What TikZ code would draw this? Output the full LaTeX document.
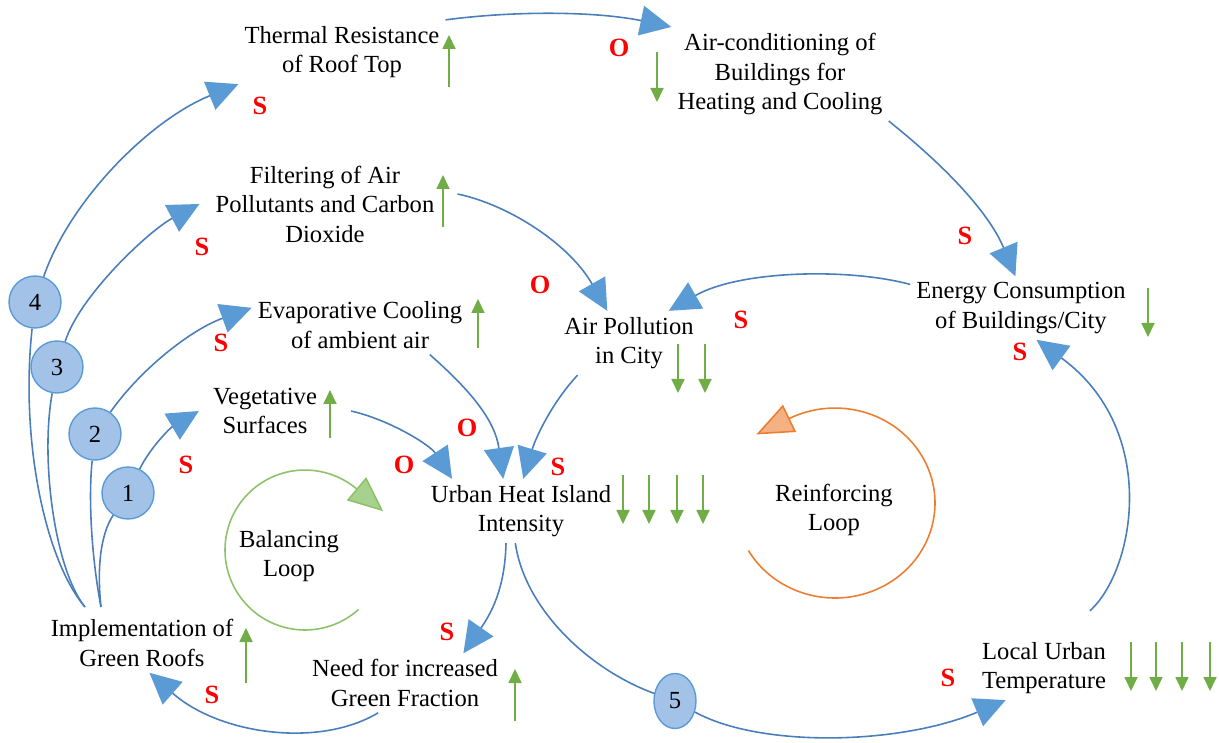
\documentclass[tikz,border=0pt]{standalone}
\usepackage{fontspec}
\setmainfont{Liberation Serif}
\usepackage{tikz}
\usetikzlibrary{arrows.meta,shapes.geometric}

\definecolor{linkblue}{HTML}{4A7EBB}
\definecolor{headblue}{HTML}{5B9BD5}
\definecolor{bubblefill}{HTML}{A3C2E8}
\definecolor{trendgreen}{HTML}{70AD47}
\definecolor{loopgreen}{HTML}{8DC26B}
\definecolor{loopgreenfill}{HTML}{A9D18E}
\definecolor{looporange}{HTML}{ED7D31}
\definecolor{looporangefill}{HTML}{F4B183}

\tikzset{
  factor/.style={align=center, font=\fontsize{14}{16.8}\selectfont},
  sign/.style={text=red, font=\bfseries\fontsize{15}{18}\selectfont},
  bubble/.style={circle, draw=headblue, fill=bubblefill, line width=0.8pt, minimum size=10.4mm, inner sep=0pt, font=\fontsize{14}{16.8}\selectfont},
  feed/.style={draw=linkblue, line width=0.9pt},
  link/.style={feed, -{Triangle[length=6.2mm,width=6mm,color=headblue]}},
  trend/.style={draw=trendgreen, line width=1pt, -{Triangle[length=2.8mm,width=2.6mm]}},
}

\begin{document}
\begin{tikzpicture}[x=0.2mm, y=-0.2mm]
	\useasboundingbox (0,0) rectangle (1219,743);
	
	% factors
	\node[factor] (therm) at (342,52) {Thermal Resistance\\of Roof Top};
	\node[factor] (aircon) at (780,74) {Air-conditioning of\\Buildings for\\Heating and Cooling};
	\node[factor] (filt) at (325,204) {Filtering of Air\\Pollutants and Carbon\\Dioxide};
	\node[factor] (evap) at (360,325) {Evaporative Cooling\\of ambient air};
	\node[factor] (veg) at (265,411) {Vegetative\\Surfaces};
	\node[factor] (airpol) at (629,343) {Air Pollution\\in City};
	\node[factor] (energy) at (1021,308) {Energy Consumption\\of Buildings/City};
	\node[factor] (uhi) at (521,511) {Urban Heat Island\\Intensity};
	\node[factor] (impl) at (142,643) {Implementation of\\Green Roofs};
	\node[factor] (need) at (405,683) {Need for increased\\Green Fraction};
	\node[factor] (local) at (1044,668) {Local Urban\\Temperature};
	\node[factor] (balance) at (289,556) {Balancing\\Loop};
	\node[factor] (reinforce) at (834,510) {Reinforcing\\Loop};
	
	% numbered stages
	\node[bubble] (c4) at (35,302) {4};
	\node[bubble] (c3) at (57,367) {3};
	\node[bubble] (c2) at (95,434) {2};
	\node[bubble] (c1) at (128,493) {1};
	\node[bubble, ellipse, minimum width=8.4mm, minimum height=11mm] (c5) at (675,701) {5};
	
	\coordinate (implA) at (85,607);
	\coordinate (implB) at (101,607);
	
	% links from the roofs
	\draw[feed] (implA) .. controls (45,560) and (20,440) .. (c4);
	\draw[feed] (implA) .. controls (55,570) and (40,460) .. (c3);
	\draw[feed] (implB) .. controls (92,560) and (88,500) .. (c2);
	\draw[feed] (implB) .. controls (97,570) and (100,535) .. (c1);
	\draw[link] (c4) .. controls (70,200) and (150,120) .. (therm.south west);
	\draw[link] (c3) .. controls (80,295) and (150,230) .. ([xshift=-2mm]filt.west);
	\draw[link] (c2) .. controls (140,370) and (190,330) .. (evap.171);
	\draw[link] (c1) .. controls (150,448) and (170,428) .. ([xshift=-1.6mm]veg.west);
	
	% links between factors
	\draw[link] (therm.north east) .. controls (520,10) and (600,12) .. (aircon.north west);
	\draw[link] (aircon.south east) .. controls (950,170) and (990,215) .. (energy.100);
	\draw[link] (energy.168) .. controls (850,268) and (740,270) .. (airpol.39);
	\draw[link] ([xshift=3.4mm,yshift=2mm]filt.east) .. controls (510,205) and (570,245) .. (airpol.124);
	\draw[link] (evap.337) .. controls (470,390) and (495,420) .. (uhi.119);
	\draw[link] (airpol.212) .. controls (550,405) and (535,440) .. (uhi.86);
	\draw[link] ([xshift=5.6mm]veg.east) .. controls (390,420) and (430,445) .. (uhi.155);
	\draw[link] (uhi.245) .. controls (505,590) and (490,615) .. (need.27);
	\draw[link] (need.228) .. controls (320,748) and (220,735) .. (impl.284);
	\draw[feed] (uhi.260) .. controls (525,610) and (590,670) .. (c5);
	\draw[link] (c5) .. controls (760,748) and (900,745) .. (local.220);
	\draw[link] ([yshift=5mm]local.35) .. controls (1135,570) and (1160,430) .. (energy.296);
	
	% loops
	\draw[line width=0.9pt, loopgreen, shorten >=-7mm, -{Triangle[length=7mm,width=6mm,fill=loopgreenfill]}]
		(305,550) ++(-312:80) arc[start angle=-312, end angle=-50, radius=80];
	\draw[line width=0.9pt, looporange, shorten >=-7.4mm, -{Triangle[length=7.4mm,width=6mm,fill=looporangefill]}]
		(835,503) ++(-210:100 and 95) arc[start angle=-210, end angle=-477, x radius=100, y radius=95];
	
	% polarity signs
	\node[sign] (sTherm) at (260,106) {S};
	\node[sign] (oAircon) at (619,48) {O};
	\node[sign] (sFilt) at (202,247) {S};
	\node[sign] (sEnergy) at (965,236) {S};
	\node[sign] (oAirpol) at (540,285) {O};
	\node[sign] (sAirpol) at (741,320) {S};
	\node[sign] (sEvap) at (221,343) {S};
	\node[sign] (sEnergyB) at (1020,352) {S};
	\node[sign] (oEvap) at (467,428) {O};
	\node[sign] (sVeg) at (186,465) {S};
	\node[sign] (oVeg) at (404,465) {O};
	\node[sign] (sUhi) at (558,467) {S};
	\node[sign] (sNeed) at (447,632) {S};
	\node[sign] (sImpl) at (212,695) {S};
	\node[sign] (sLocal) at (948,678) {S};
	
	% trends
	\draw[trend] (449,87) -- (449,35);
	\draw[trend] (657,52) -- (657,102);
	\draw[trend] (443,227) -- (443,175);
	\draw[trend] (478,348) -- (478,299);
	\draw[trend] (330,438) -- (330,390);
	\draw[trend] (678,344) -- (678,393);
	\draw[trend] (705,344) -- (705,393);
	\draw[trend] (1148,288) -- (1148,337);
	\draw[trend] (623,475) -- (623,524);
	\draw[trend] (649,475) -- (649,524);
	\draw[trend] (677,475) -- (677,524);
	\draw[trend] (703,475) -- (703,524);
	\draw[trend] (246,683) -- (246,628);
	\draw[trend] (515,721) -- (515,669);
	\draw[trend] (1131,642) -- (1131,691);
	\draw[trend] (1156,642) -- (1156,691);
	\draw[trend] (1182,642) -- (1182,691);
	\draw[trend] (1210,642) -- (1210,691);
\end{tikzpicture}
\end{document}
